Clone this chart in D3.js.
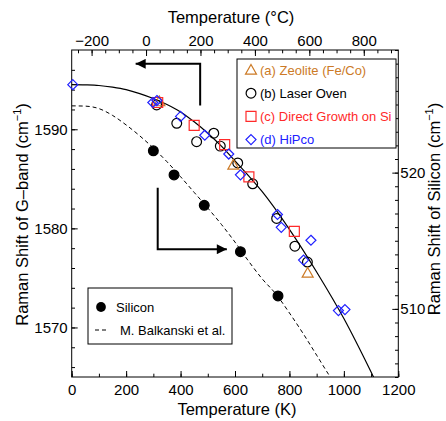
<!DOCTYPE html>
<html>
<head>
<meta charset="utf-8">
<script src="https://cdn.jsdelivr.net/npm/d3@7"></script>
<style>
  body { margin: 0; background: #fff; }
  svg { display: block; }
  svg text { font-family: "Liberation Sans", Arial, sans-serif; }
  .axis line { stroke: #000; }
</style>
</head>
<body>
<div id="chart"></div>
<script>
// ---- data ----
// G-band fit (solid), temperature in K
const fitK     = [0, 50, 100, 150, 200, 250, 300, 350, 400, 450, 500, 550, 600, 650, 700, 800, 900, 1000, 1100, 1130];
const fitShift = [1594.5, 1594.48, 1594.42, 1594.25, 1594.0, 1593.6, 1593.1, 1592.5, 1591.75, 1590.75, 1589.6, 1588.3, 1586.8, 1585.3, 1583.7, 1579.9, 1575.6, 1570.9, 1565.5, 1563.8];

// Balkanski silicon curve (dashed), right axis
const balkK     = [0, 50, 100, 150, 200, 250, 300, 350, 400, 450, 500, 550, 600, 650, 700, 750, 800, 850, 900, 950, 970];
const balkShift = [524.9, 524.88, 524.7, 524.2, 523.5, 522.7, 521.8, 520.8, 519.7, 518.55, 517.4, 516.2, 514.9, 513.5, 512.2, 511.1, 509.7, 508.2, 506.6, 505.0, 504.4];

const zeoliteK     = [322, 594, 867];
const zeoliteShift = [1592.8, 1586.4, 1575.5];

const laserK     = [312, 386, 459, 522, 546, 610, 665, 753, 820, 866];
const laserShift = [1592.45, 1590.6, 1588.75, 1589.6, 1588.3, 1586.6, 1584.5, 1581.0, 1578.2, 1576.6];

const directK     = [316, 450, 562, 651, 818];
const directShift = [1592.7, 1590.4, 1588.45, 1585.2, 1579.7];

const hipcoK     = [4, 298, 313, 400, 489, 577, 620, 756, 770, 852, 879, 980, 1004];
const hipcoShift = [1594.5, 1592.7, 1592.9, 1591.3, 1589.4, 1587.5, 1585.4, 1581.4, 1580.1, 1576.8, 1578.8, 1571.7, 1571.8];

const siliconK     = [300, 376, 487, 620, 758];
const siliconShift = [521.6, 519.83, 517.6, 514.2, 510.95];

const kTicks = [0, 200, 400, 600, 800, 1000, 1200];
const cTicks = [-200, 0, 200, 400, 600, 800];
const leftTicks = [1570, 1580, 1590];
const rightTicks = [510, 520];

const legendItems = [
  { label: "(a) Zeolite (Fe/Co)", shape: "triangle", color: "#cc7a26" },
  { label: "(b) Laser Oven", shape: "circle", color: "#000000" },
  { label: "(c) Direct Growth on Si", shape: "square", color: "#ff2a2a" },
  { label: "(d) HiPco", shape: "diamond", color: "#2020ff" }
];

// ---- layout ----
const width = 446, height = 421;
const plot = { left: 71.7, right: 398.3, top: 50, bottom: 377 };
const FONT = '"Liberation Sans", Arial, sans-serif';

const svg = d3.select('#chart').append('svg')
  .attr('width', width).attr('height', height)
  .attr('font-family', FONT);

const x = d3.scaleLinear().domain([0, 1200]).range([plot.left, plot.right]);
const xC = d3.scaleLinear().domain([-273.15, 926.85]).range([plot.left, plot.right]);
const yL = d3.scaleLinear().domain([1565, 1598]).range([plot.bottom, plot.top]);
const yR = d3.scaleLinear().domain([505, 529]).range([plot.bottom, plot.top]);

function addAxis(axisFn, scale, major, minor, transform, fmt) {
  const gMinor = svg.append('g').attr('class', 'axis').attr('transform', transform)
    .call(axisFn(scale).tickValues(minor).tickSize(-3.3).tickFormat(''));
  gMinor.select('.domain').remove();
  const gMajor = svg.append('g').attr('class', 'axis').attr('transform', transform)
    .call(axisFn(scale).tickValues(major).tickSize(-6).tickPadding(4).tickFormat(fmt));
  gMajor.select('.domain').remove();
  gMajor.attr('font-family', FONT).attr('font-size', 15);
  gMajor.selectAll('text').attr('fill', '#000');
  return gMajor;
}

const intFmt = d => d < 0 ? '\u2212' + Math.abs(d) : String(d);

addAxis(d3.axisBottom, x, kTicks, d3.range(0, 1201, 100), `translate(0,${plot.bottom})`, intFmt)
  .selectAll('text').attr('dy', '0.95em');
addAxis(d3.axisTop, xC, cTicks, d3.range(-250, 926, 50), `translate(0,${plot.top})`, intFmt);
addAxis(d3.axisLeft, yL, leftTicks, d3.range(1566, 1598, 2), `translate(${plot.left},0)`, intFmt);
addAxis(d3.axisRight, yR, rightTicks, d3.range(505, 530, 1), `translate(${plot.right},0)`, intFmt)
  .selectAll('text').attr('dx', '-2');

// frame
svg.append('rect')
  .attr('x', plot.left).attr('y', plot.top)
  .attr('width', plot.right - plot.left).attr('height', plot.bottom - plot.top)
  .attr('fill', 'none').attr('stroke', '#000').attr('stroke-width', 1);

// axis titles
svg.append('text').attr('x', 237).attr('y', 415)
  .attr('text-anchor', 'middle').attr('font-size', 16.5).text('Temperature (K)');
svg.append('text').attr('x', 231).attr('y', 23)
  .attr('text-anchor', 'middle').attr('font-size', 16.5).text('Temperature (\u00b0C)');

function yTitle(tx, ty, main) {
  const t = svg.append('text')
    .attr('transform', `translate(${tx},${ty}) rotate(-90)`)
    .attr('text-anchor', 'middle').attr('font-size', 16.5);
  t.append('tspan').text(main + ' (cm');
  t.append('tspan').attr('dy', -7).attr('font-size', 11).text('\u22121');
  t.append('tspan').attr('dy', 7).text(')');
}
yTitle(27.5, 214.5, 'Raman Shift of G\u2013band');
yTitle(440, 209, 'Raman Shift of Silicon');

// clip for curves
svg.append('clipPath').attr('id', 'plotclip').append('rect')
  .attr('x', plot.left).attr('y', plot.top)
  .attr('width', plot.right - plot.left).attr('height', plot.bottom - plot.top);

const fitLine = d3.line().curve(d3.curveMonotoneX)
  .x((d, i) => x(fitK[i])).y(d => yL(d));
svg.append('path').attr('clip-path', 'url(#plotclip)')
  .attr('d', fitLine(fitShift))
  .attr('fill', 'none').attr('stroke', '#000').attr('stroke-width', 1.2);

const balkLine = d3.line().curve(d3.curveMonotoneX)
  .x((d, i) => x(balkK[i])).y(d => yR(d));
svg.append('path').attr('clip-path', 'url(#plotclip)')
  .attr('d', balkLine(balkShift))
  .attr('fill', 'none').attr('stroke', '#000').attr('stroke-width', 1)
  .attr('stroke-dasharray', '4,3');

// markers
function shapePath(shape) {
  if (shape === 'triangle') return 'M0,-5.5L5.5,4.2L-5.5,4.2Z';
  if (shape === 'square') return 'M-5,-5H5V5H-5Z';
  if (shape === 'diamond') return 'M0,-5L5,0L0,5L-5,0Z';
  return d3.symbol(d3.symbolCircle, 75)();
}

function drawPoints(ks, vals, yScale, shape, color, filled) {
  const g = svg.append('g');
  g.selectAll('path').data(vals).enter().append('path')
    .attr('transform', (d, i) => `translate(${x(ks[i])},${yScale(d)})`)
    .attr('d', shapePath(shape))
    .attr('fill', filled ? color : 'none')
    .attr('stroke', color).attr('stroke-width', 1.2);
}

drawPoints(laserK, laserShift, yL, 'circle', '#000', false);
drawPoints(zeoliteK, zeoliteShift, yL, 'triangle', legendItems[0].color, false);
drawPoints(directK, directShift, yL, 'square', legendItems[2].color, false);
drawPoints(hipcoK, hipcoShift, yL, 'diamond', legendItems[3].color, false);
drawPoints(siliconK, siliconShift, yR, 'circle', '#000', true);

// arrows (placed in data units)
svg.append('defs').append('marker')
  .attr('id', 'head').attr('viewBox', '0 0 10 10')
  .attr('refX', 10).attr('refY', 5)
  .attr('markerWidth', 14).attr('markerHeight', 10)
  .attr('markerUnits', 'userSpaceOnUse')
  .attr('orient', 'auto')
  .append('path').attr('d', 'M0,0L10,5L0,10Z').attr('fill', '#000');

const arrowLeft = [[472, 1592.4], [472, 1596.6], [235, 1596.6]];
const arrowRight = [[316, 1584.1], [316, 1577.9], [570, 1577.9]];
[arrowLeft, arrowRight].forEach(pts => {
  svg.append('path')
    .attr('d', d3.line().x(p => x(p[0])).y(p => yL(p[1]))(pts))
    .attr('fill', 'none').attr('stroke', '#000').attr('stroke-width', 2)
    .attr('marker-end', 'url(#head)');
});

// legend 1
const leg = svg.append('g');
leg.append('rect').attr('x', 237).attr('y', 59).attr('width', 159).attr('height', 89)
  .attr('fill', '#fff').attr('stroke', '#000').attr('stroke-width', 1);
legendItems.forEach((item, i) => {
  const cy = 70 + i * 23.2;
  leg.append('path').attr('transform', `translate(251,${cy})`)
    .attr('d', shapePath(item.shape))
    .attr('fill', 'none').attr('stroke', item.color).attr('stroke-width', 1.2);
  leg.append('text').attr('x', 260).attr('y', cy + 4.5)
    .attr('font-size', 13).attr('fill', item.color).text(item.label);
});

// legend 2
const leg2 = svg.append('g');
leg2.append('rect').attr('x', 88).attr('y', 288).attr('width', 144).attr('height', 56)
  .attr('fill', '#fff').attr('stroke', '#000').attr('stroke-width', 1);
leg2.append('path').attr('transform', 'translate(101,307)')
  .attr('d', shapePath('circle')).attr('fill', '#000');
leg2.append('text').attr('x', 116).attr('y', 311.5).attr('font-size', 13).text('Silicon');
leg2.append('line').attr('x1', 95).attr('x2', 109).attr('y1', 330).attr('y2', 330)
  .attr('stroke', '#000').attr('stroke-dasharray', '4,3');
leg2.append('text').attr('x', 120).attr('y', 334.5).attr('font-size', 13).text('M. Balkanski et al.');
</script>
</body>
</html>
